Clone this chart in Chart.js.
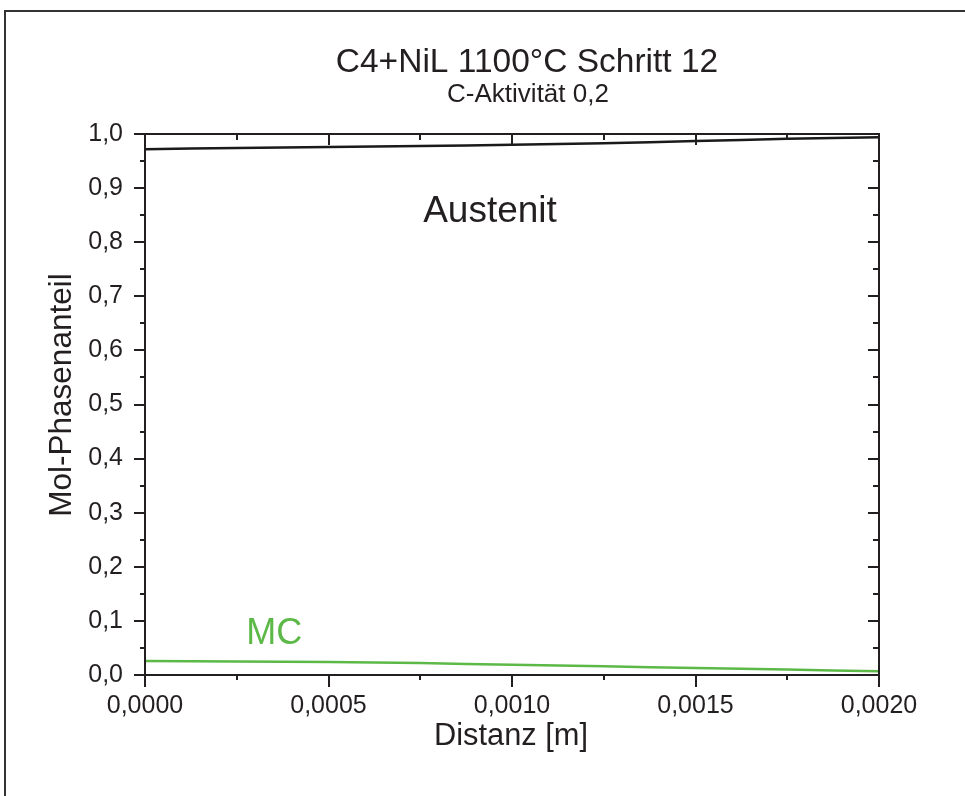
<!DOCTYPE html>
<html>
<head>
<meta charset="utf-8">
<title>C4+NiL 1100°C Schritt 12</title>
<script src="https://cdn.jsdelivr.net/npm/chart.js@4.4.1/dist/chart.umd.min.js"></script>
<style>
  html, body { margin: 0; padding: 0; background: #ffffff; }
  canvas { display: block; }
</style>
</head>
<body>
<canvas id="c" width="965" height="796"></canvas>
<script>
// Distance from surface [m]
const distanz = [0, 0.00025, 0.0005, 0.00075, 0.001, 0.00125, 0.0015, 0.00175, 0.002];
// Phase fractions (mol)
const austenit = [0.972, 0.974, 0.976, 0.978, 0.980, 0.983, 0.987, 0.991, 0.994];
const mc = [0.026, 0.025, 0.024, 0.022, 0.019, 0.016, 0.013, 0.010, 0.007];

// Axis tick labels
const xTickLabels = ['0,0000', '0,0005', '0,0010', '0,0015', '0,0020'];
const yTickLabels = ['0,0', '0,1', '0,2', '0,3', '0,4', '0,5', '0,6', '0,7', '0,8', '0,9', '1,0'];

const titleText = 'C4+NiL 1100°C Schritt 12';
const subtitleText = 'C-Aktivität 0,2';
const xTitle = 'Distanz [m]';
const yTitle = 'Mol-Phasenanteil';

const INK = '#231f20';
const GREEN = '#5cb947';
const FONT = '"Liberation Sans", Arial, Helvetica, sans-serif';

function toPoints(xs, ys) {
  return xs.map((x, i) => ({ x: x, y: ys[i] }));
}

// Frame, major/minor ticks on all four sides, and text labels
const decorations = {
  id: 'decorations',
  afterDatasetsDraw(chart) {
    const ctx = chart.ctx;
    const xs = chart.scales.x, ys = chart.scales.y;
    const a = chart.chartArea;
    ctx.save();

    // outer figure frame (top and left edges)
    ctx.strokeStyle = '#333333';
    ctx.lineWidth = 2;
    ctx.beginPath();
    ctx.moveTo(5, 800);
    ctx.lineTo(5, 11);
    ctx.lineTo(970, 11);
    ctx.stroke();

    // plot box
    ctx.strokeStyle = INK;
    ctx.lineWidth = 2;
    ctx.strokeRect(a.left, a.top, a.right - a.left, a.bottom - a.top);

    // ticks
    ctx.lineWidth = 2;
    ctx.beginPath();
    for (let i = 0; i <= 20; i++) {
      const v = i * 0.05;
      const py = Math.round(ys.getPixelForValue(v));
      const major = i % 2 === 0;
      const outL = major ? 11 : 5;
      const inR = major ? 11 : 6;
      ctx.moveTo(a.left - outL, py); ctx.lineTo(a.left, py);
      ctx.moveTo(a.right, py); ctx.lineTo(a.right - inR, py);
    }
    for (let i = 0; i <= 8; i++) {
      const v = i * 0.00025;
      const px = Math.round(xs.getPixelForValue(v));
      const major = i % 2 === 0;
      const outB = major ? 12 : 5;
      const inT = major ? 11 : 6;
      ctx.moveTo(px, a.bottom); ctx.lineTo(px, a.bottom + outB);
      ctx.moveTo(px, a.top); ctx.lineTo(px, a.top + inT);
    }
    ctx.stroke();

    // titles
    ctx.fillStyle = INK;
    ctx.textAlign = 'center';
    ctx.textBaseline = 'alphabetic';
    ctx.font = '33.5px ' + FONT;
    ctx.fillText(titleText, 527, 72);
    ctx.font = '26px ' + FONT;
    ctx.fillText(subtitleText, 528, 102);

    // axis titles
    ctx.font = '30.8px ' + FONT;
    ctx.fillText(xTitle, 511, 745);
    ctx.save();
    ctx.translate(71, 395);
    ctx.rotate(-Math.PI / 2);
    ctx.font = '31.5px ' + FONT;
    ctx.fillText(yTitle, 0, 0);
    ctx.restore();

    // series labels
    ctx.font = '37px ' + FONT;
    ctx.fillStyle = INK;
    ctx.fillText('Austenit', xs.getPixelForValue(0.00094), ys.getPixelForValue(0.837));
    ctx.textAlign = 'left';
    ctx.font = '36px ' + FONT;
    ctx.fillStyle = GREEN;
    ctx.fillText('MC', xs.getPixelForValue(0.000276), ys.getPixelForValue(0.0573));

    ctx.restore();
  }
};

new Chart(document.getElementById('c'), {
  type: 'scatter',
  data: {
    datasets: [
      {
        label: 'Austenit',
        data: toPoints(distanz, austenit),
        showLine: true,
        borderColor: '#1a1a1a',
        borderWidth: 2.5,
        pointRadius: 0,
        tension: 0.2
      },
      {
        label: 'MC',
        data: toPoints(distanz, mc),
        showLine: true,
        borderColor: GREEN,
        borderWidth: 2.5,
        pointRadius: 0,
        tension: 0.2
      }
    ]
  },
  options: {
    responsive: false,
    animation: false,
    layout: { padding: { left: 0, top: 134, right: 86, bottom: 0 } },
    plugins: {
      legend: { display: false },
      title: { display: false },
      tooltip: { enabled: false }
    },
    scales: {
      x: {
        type: 'linear',
        min: 0,
        max: 0.002,
        border: { display: false },
        grid: { display: false, drawTicks: false },
        ticks: {
          stepSize: 0.0005,
          color: INK,
          font: { family: FONT, size: 25 },
          padding: 16,
          maxRotation: 0,
          callback: (v) => {
            const i = Math.round(v / 0.0005);
            return xTickLabels[i];
          }
        },
        afterFit: (s) => { s.height = 121; }
      },
      y: {
        type: 'linear',
        min: 0,
        max: 1,
        border: { display: false },
        grid: { display: false, drawTicks: false },
        ticks: {
          stepSize: 0.1,
          color: INK,
          font: { family: FONT, size: 25 },
          padding: 22,
          callback: (v) => {
            const i = Math.round(v / 0.1);
            return yTickLabels[i];
          }
        },
        afterFit: (s) => { s.width = 145; }
      }
    }
  },
  plugins: [decorations]
});
</script>
</body>
</html>
